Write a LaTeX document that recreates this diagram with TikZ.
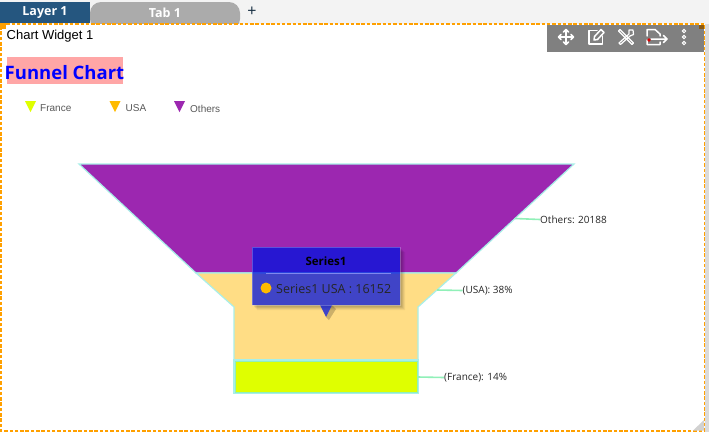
\documentclass[tikz,border=0pt]{standalone}
\usepackage{fontspec}
\setmainfont{Liberation Sans}
\newfontfamily\uifont{Open Sans}
\definecolor{tabblue}{HTML}{25567F}
\definecolor{tabgray}{HTML}{ABABAB}
\definecolor{barbg}{HTML}{F3F3F3}
\definecolor{dashor}{HTML}{FFA000}
\definecolor{purp}{HTML}{9C27B0}
\definecolor{sand}{HTML}{FFDD85}
\definecolor{lime}{HTML}{DFFF00}
\definecolor{amber}{HTML}{FFBB00}
\definecolor{edgec}{HTML}{A8EFE8}
\definecolor{leader}{HTML}{90F0B8}
\definecolor{tooltipc}{HTML}{0012DE}
\definecolor{cornerc}{HTML}{8A5A14}
\tikzset{
  lbl/.style={inner sep=0pt,anchor=west,font=\uifont\fontsize{10}{12}\selectfont,text=black!85},
  legtxt/.style={inner sep=0pt,anchor=west,font=\fontsize{10}{12}\selectfont,text=black!65},
  tabtxt/.style={inner sep=0pt,font=\uifont\bfseries\fontsize{12.5}{14}\selectfont,text=white},
  tool/.style={draw=white,line width=1.5pt,line cap=round,line join=round},
  seg/.style={draw=edgec,line width=1.2pt,line join=miter},
  leaderl/.style={draw=leader,line width=1.6pt},
}
\begin{document}
\begin{tikzpicture}[x=1pt,y=-1pt]
\useasboundingbox (0,0) rectangle (709,432);
\fill[white] (0,0) rectangle (709,432);
% top bar
\fill[barbg] (0,0) rectangle (709,23.5);
\fill[black!14] (705,24) rectangle (709,432);
\fill[tabblue] (0,2) rectangle (90,23);
\node[tabtxt] (layer) at (45,12.5) {Layer 1};
\fill[tabgray,rounded corners=11pt] (90,30) -- (90,2) -- (240,2) -- (240,30) -- cycle;
\fill[barbg] (88,23.5) rectangle (242,31);
\node[tabtxt] (tab) at (165,12.5) {Tab 1};
\node[inner sep=0pt,font=\uifont\fontsize{16}{16}\selectfont,text=black!50!tabblue] (plus) at (252,11.5) {+};
\fill[white] (2,24) rectangle (704,31);
% widget frame
\draw[dashor,line width=1.2pt,dash pattern=on 3.5pt off 1.8pt] (1,24) -- (704.5,24) -- (704.5,431) -- (1,431) -- cycle;
\fill[dashor] (0,23) rectangle (6,29);
\fill[black!18] (693,430.5) -- (704,430.5) -- (704,420) -- cycle;
% titles
\node[inner sep=0pt,anchor=west,font=\fontsize{13}{15}\selectfont] (widget) at (6.5,36) {Chart Widget 1};
\fill[red!35!white] (7,57) rectangle (123,84);
\begin{scope}
\clip (5,50) rectangle (130,90);
\node[inner sep=0pt,anchor=west,font=\uifont\bfseries\fontsize{18.5}{20}\selectfont,text=blue] (title) at (4.5,72.5) {Funnel Chart};
\end{scope}
% legend
\fill[lime] (25,101) -- (36,101) -- (30.5,112) -- cycle;
\node[legtxt] (lfr) at (40,108.5) {France};
\fill[amber] (109.5,101) -- (120.5,101) -- (115,112) -- cycle;
\node[legtxt] (lus) at (125.5,108.5) {USA};
\fill[purp] (174,101) -- (185,101) -- (179.5,112) -- cycle;
\node[legtxt] (lot) at (190,108.5) {Others};
% funnel
\coordinate (othersR) at (515,218.5);
\coordinate (usaR) at (437,290);
\coordinate (frR) at (418,377);
\filldraw[seg,fill=purp] (79,164) -- (574,164) -- (456,273) -- (196,273) -- cycle;
\filldraw[seg,fill=sand] (196,273) -- (456,273) -- (418,307) -- (418,360) -- (234,360) -- (234,307) -- cycle;
\filldraw[seg,fill=lime] (234,360) -- (418,360) -- (418,393) -- (234,393) -- cycle;
\draw[leader,line width=1pt] (235,361) rectangle (417,392);
\node[lbl] (others) at (540,219.5) {Others: 20188};
\node[lbl] (usa) at (462.5,290.5) {(USA): 38\%};
\node[lbl] (france) at (444,377.5) {(France): 14\%};
\draw[leaderl] (othersR) -- (others.west);
\draw[leaderl] (usaR) -- (usa.west);
\draw[leaderl] (frR) -- (france.west);
% tooltip
\foreach \dd/\oo in {5/0.05,4/0.06,3/0.07,2/0.08}{
  \fill[black,opacity=\oo] (400,247+\dd) -- (400+\dd,247+\dd) -- (400+\dd,305+\dd) -- (252+\dd,305+\dd) -- (252+\dd,305) -- (400,305) -- cycle;
}
\fill[black,opacity=0.2] (326,317) -- (332,305) -- (336,309) -- (329,320) -- cycle;
\fill[tooltipc,opacity=0.75] (252,247) -- (400,247) -- (400,305) -- (332,305) -- (326,317) -- (320,305) -- (252,305) -- cycle;
\draw[white,opacity=0.25,line width=0.6pt] (252,247) rectangle (400,305);
\node[inner sep=0pt,font=\uifont\bfseries\fontsize{11.5}{13}\selectfont,text=black] (ttitle) at (326,261.5) {Series1};
\coordinate (tl) at (266,273);
\coordinate (tr) at (391,273);
\draw[white!50!tooltipc,line width=0.9pt] (tl) -- (tr);
\fill[amber] (266,288) circle[radius=5.5];
\node[inner sep=0pt,anchor=west,font=\uifont\fontsize{12.5}{14}\selectfont,text=black!85] (tbody) at (276,288.5) {Series1 USA : 16152};
% toolbar
\fill[black!50] (547,24.5) rectangle (704,52);
\fill[cornerc] (699,24.5) rectangle (704,29);
% move icon
\begin{scope}[shift={(566,37)}]
\draw[tool] (-7,0) -- (7,0) (0,-7) -- (0,7);
\draw[tool] (-5,-2.5) -- (-7.5,0) -- (-5,2.5) (5,-2.5) -- (7.5,0) -- (5,2.5) (-2.5,-5) -- (0,-7.5) -- (2.5,-5) (-2.5,5) -- (0,7.5) -- (2.5,5);
\end{scope}
% edit icon
\begin{scope}[shift={(596,37)}]
\draw[tool] (1,-6.5) -- (-7,-6.5) -- (-7,7) -- (6.5,7) -- (6.5,-1);
\draw[tool] (-2,3) -- (-1.5,-0.5) -- (5,-7.5) -- (8,-4.5) -- (1.5,2.5) -- cycle;
\end{scope}
% tools icon
\begin{scope}[shift={(626,37)}]
\draw[tool,line width=1.2pt] (-6,-7.5) -- (-7.5,-6) -- (6,7.5) -- (7.5,6) -- cycle;
\draw[tool,line width=1.2pt] (7,-7) -- (3,-7) -- (3,-3) -- (-7,6) -- (-5.5,7.5) -- (4,-1) -- (7.5,-2.5) -- cycle;
\end{scope}
% export icon
\begin{scope}[shift={(655,37)}]
\draw[tool] (-8,-1) -- (-8,-7.5) -- (0,-7.5) -- (5,-3) -- (5,-1) (5,5) -- (5,7.5) -- (-8,7.5) -- (-8,3);
\draw[tool] (-4,2) -- (12,2) (8.5,-1.5) -- (12,2) -- (8.5,5.5);
\fill[red!85!black] (-6,3) circle[radius=1.8];
\end{scope}
% menu dots
\foreach \yy in {-6,0,6}{\draw[white,line width=1pt] (684,37+\yy) circle[radius=1.7];}
\end{tikzpicture}
\end{document}
